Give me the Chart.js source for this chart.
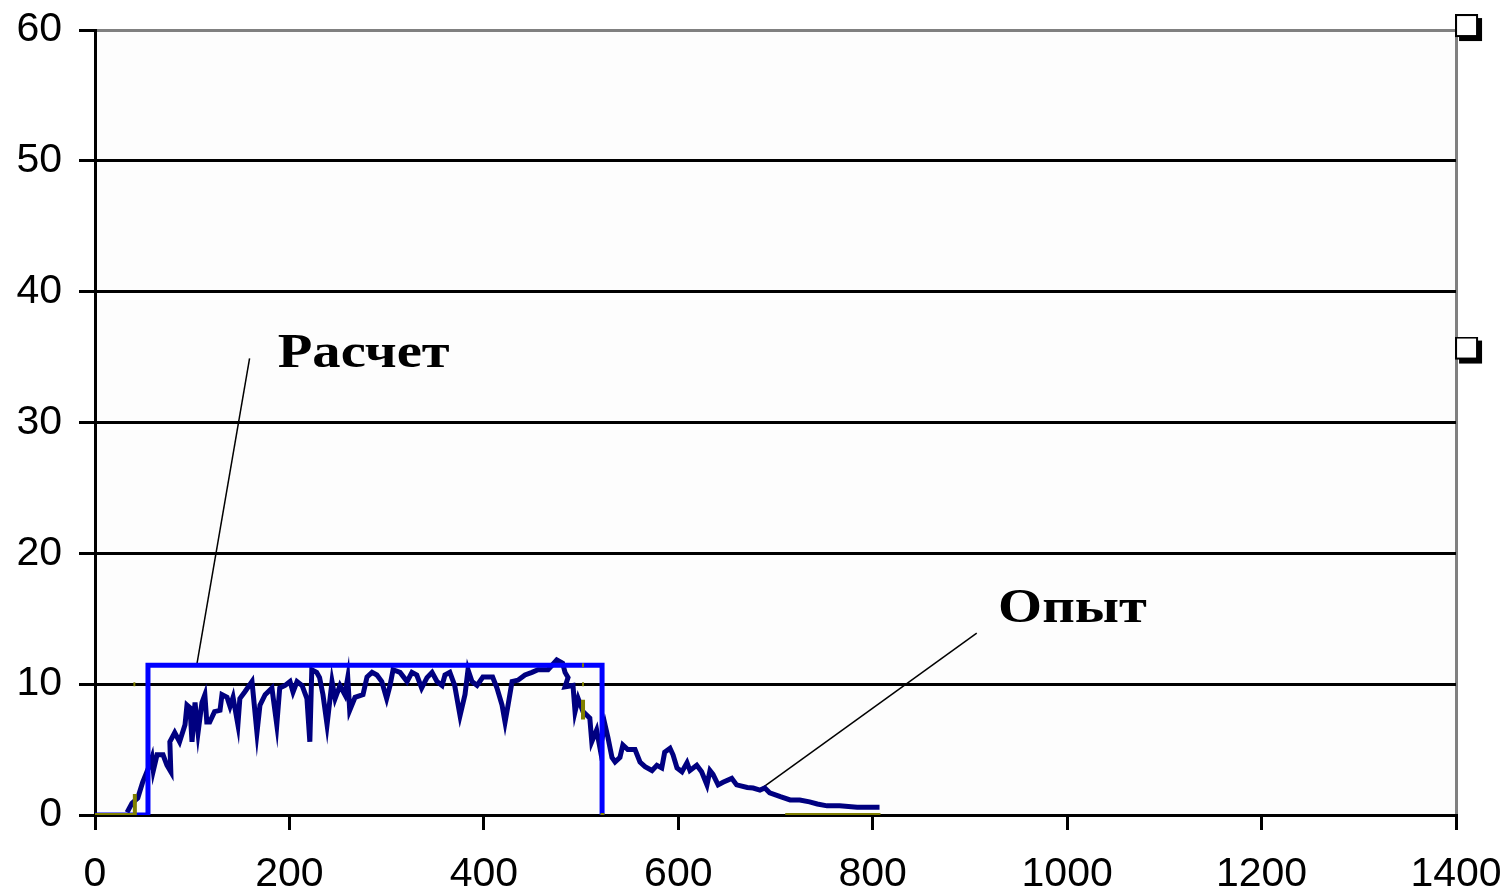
<!DOCTYPE html>
<html>
<head>
<meta charset="utf-8">
<script src="https://cdn.jsdelivr.net/npm/chart.js@4.4.1/dist/chart.umd.min.js"></script>
<style>
  html, body { margin: 0; padding: 0; background: #ffffff; }
  #wrap { width: 1506px; height: 894px; }
</style>
</head>
<body>
<div id="wrap"><canvas id="chart_profile" width="1506" height="894"></canvas></div>
<script>
// ---- data ----
var xTicks = [0, 200, 400, 600, 800, 1000, 1200, 1400];
var yTicks = [0, 10, 20, 30, 40, 50, 60];

// calculation ("Расчет"): rectangular pulse
var calcPoints = [[0, 0], [54.5, 0], [54.5, 11.45], [521.6, 11.45], [521.6, 0]];

// experiment ("Опыт")
var expPoints = [
  [33, 0.2], [38, 0.9], [44, 1.3], [49, 2.5], [55, 3.6], [58.6, 4.4], [60, 3.4], [63.8, 4.6],
  [70, 4.6], [74, 3.8], [78, 3.3], [77, 5.6], [82, 6.3], [87, 5.6], [92.6, 6.9], [94.6, 8.4],
  [97.7, 8.2], [99.8, 5.6], [102.9, 8.6], [106, 6.3], [110, 8.6], [113, 9.2], [115, 7.1],
  [118, 7.1], [123, 7.9], [128.6, 8.0], [130.6, 9.2], [135.8, 9.0], [138.9, 8.3], [142, 9.0],
  [147, 6.9], [149, 8.9], [154, 9.4], [161.5, 10.2], [166.6, 6.3], [169.7, 8.4], [175, 9.2],
  [182, 9.7], [187, 6.9], [190, 9.7], [195.5, 9.9], [200.6, 10.2], [203.7, 9.4], [207.8, 10.2],
  [213, 9.9], [218, 8.9], [221, 5.6], [223, 11.1], [228, 10.9], [231, 10.5], [234.5, 9.2],
  [238.7, 6.9], [243.8, 10.2], [247, 8.9], [252, 9.9], [257, 9.2], [260, 10.5], [262, 8.0],
  [267.5, 9.0], [275.7, 9.2], [279.8, 10.55], [285, 10.9], [290, 10.7], [295, 10.2], [300, 8.9],
  [303.5, 9.9], [306.6, 11.1], [313.8, 10.9], [321, 10.2], [326, 10.9], [331, 10.7], [336, 9.7],
  [341.5, 10.5], [346.7, 10.9], [351.8, 10.2], [357, 9.9], [360, 10.7], [365, 10.9], [370, 9.9],
  [375.5, 7.6], [380.6, 9.2], [383.7, 11.1], [387.8, 10.2], [393, 9.9], [399, 10.55], [409, 10.55],
  [413.5, 9.7], [418.7, 8.4], [421.8, 7.1], [424.9, 8.4], [429, 10.2], [435, 10.3], [442.3, 10.7],
  [449.5, 10.9], [455.7, 11.1], [466, 11.1], [475, 11.85], [481, 11.6], [483.5, 10.9], [486.6, 10.5],
  [483.5, 9.8], [491.7, 9.9], [493.8, 7.9], [497, 8.9], [502, 7.9], [509, 7.4], [511, 5.6],
  [516, 6.5], [519.5, 5.1], [524.6, 6.9], [527.7, 5.9], [531.8, 4.4], [535, 4.05], [540, 4.4],
  [543, 5.35], [548, 5.0], [555.5, 5.0], [560.6, 4.05], [565.8, 3.7], [573, 3.4], [578, 3.8],
  [583, 3.6], [586, 4.8], [591.5, 5.1], [594.6, 4.6], [598.7, 3.6], [603.8, 3.3], [609, 4.0],
  [612, 3.4], [619, 3.8], [624, 3.3], [629.5, 2.3], [632.6, 3.4], [635.7, 3.1], [641, 2.3],
  [646, 2.5], [655, 2.8], [660, 2.3], [671, 2.1], [677, 2.06], [684, 1.9], [689, 2.06],
  [694, 1.7], [705, 1.4], [715, 1.15], [725, 1.15], [735, 1.0], [743, 0.84], [753, 0.7],
  [766, 0.7], [784, 0.6], [794, 0.6], [807, 0.6]
];

// third (olive) curve, only the fragments that show
var olivePoints = [
  [0, 0], [41, 0], [41, 1.6], null,
  [39.5, 10], [41.5, 10], null,
  [501, 11.45], [503, 11.45], null,
  [501, 10], [503, 10], null,
  [502, 8.8], [502, 7.3], null,
  [520, 0], [524, 0], null,
  [710, 0], [808, 0]
];

// leader lines and labels
var calcLeader = [[159, 34.9], [105, 11.6]];
var expLeader = [[907, 13.9], [686, 2.06]];
var labelTexts = ['Расчет', 'Опыт'];
var labelX = [188, 929];
var labelY = [35.2, 15.7];

// stray marker squares on the right edge
var markerPoints = [[1413.4, 60.15], [1413.4, 35.5]];

function toXY(arr) {
  return arr.map(function(p) { return p ? {x: p[0], y: p[1]} : {x: null, y: null}; });
}

// square with a drop shadow for the marker point style
var markerImg = document.createElement('canvas');
markerImg.width = 28;
markerImg.height = 28;
(function() {
  var c = markerImg.getContext('2d');
  c.fillStyle = '#000000';
  c.fillRect(4, 4, 23, 23);
  c.fillStyle = '#ffffff';
  c.fillRect(1, 1, 21, 21);
  c.strokeStyle = '#000000';
  c.lineWidth = 2;
  c.strokeRect(1, 1, 21, 21);
})();

var tickFont = { family: "'Liberation Sans', Arial, sans-serif", size: 41 };

var chart_profile = new Chart(document.getElementById('chart_profile'), {
    type: 'line',
    data: {
        datasets: [
            {
                label: 'olive',
                data: toXY(olivePoints),
                borderColor: '#808000',
                borderWidth: 4,
                pointRadius: 0,
                spanGaps: false,
                order: 0
            },
            {
                label: 'Расчет',
                data: toXY(calcPoints),
                borderColor: '#0000ff',
                borderWidth: 5,
                pointRadius: 0,
                order: 1
            },
            {
                label: 'Опыт',
                data: toXY(expPoints),
                borderColor: '#000080',
                borderWidth: 5,
                pointRadius: 0,
                order: 2
            },
            {
                label: 'leader1',
                data: toXY(calcLeader),
                borderColor: '#000000',
                borderWidth: 1.5,
                pointRadius: 0,
                order: 3
            },
            {
                label: 'leader2',
                data: toXY(expLeader),
                borderColor: '#000000',
                borderWidth: 1.5,
                pointRadius: 0,
                order: 3
            },
            {
                label: 'markers',
                data: toXY(markerPoints),
                showLine: false,
                pointStyle: markerImg,
                pointRadius: 14,
                clip: false,
                order: 4
            }
        ]
    },
    options: {
        animation: false,
        responsive: false,
        maintainAspectRatio: false,
        layout: {
            padding: {left: 0, right: 50, top: 30, bottom: 0}
        },
        plugins: {
            legend: { display: false },
            tooltip: { enabled: false },
            title: { display: false }
        },
        scales: {
            x: {
                type: 'linear',
                min: 0,
                max: 1400,
                afterFit: function(axis) {
                    axis.height = 79;
                    axis.paddingLeft = 0;
                    axis.paddingRight = 0;
                },
                afterBuildTicks: function(axis) {
                    axis.ticks = xTicks.map(function(v) { return {value: v}; });
                },
                ticks: {
                    color: '#000000',
                    padding: 20,
                    maxRotation: 0,
                    font: tickFont,
                    callback: function(value) { return String(value); }
                },
                grid: {
                    color: function(ctx) {
                        return (ctx.tick && ctx.tick.value === 1400) ? '#808080' : 'rgba(0,0,0,0)';
                    },
                    lineWidth: 3,
                    tickColor: '#000000',
                    tickLength: 15,
                    drawTicks: true
                },
                border: { display: true, color: '#000000', width: 3 }
            },
            y: {
                type: 'linear',
                min: 0,
                max: 60,
                afterFit: function(axis) {
                    axis.width = 95;
                    axis.paddingTop = 0;
                    axis.paddingBottom = 0;
                },
                afterBuildTicks: function(axis) {
                    axis.ticks = yTicks.map(function(v) { return {value: v}; });
                },
                ticks: {
                    color: '#000000',
                    padding: 17,
                    font: tickFont,
                    callback: function(value) { return String(value); }
                },
                grid: {
                    color: function(ctx) {
                        return (ctx.tick && ctx.tick.value === 60) ? '#808080' : '#000000';
                    },
                    lineWidth: 3,
                    tickColor: '#000000',
                    tickLength: 16
                },
                border: { display: true, color: '#000000', width: 3 }
            }
        }
    },
    plugins: [{
        id: 'background',
        beforeDraw: function(chart) {
            var ctx = chart.ctx;
            ctx.save();
            ctx.fillStyle = '#ffffff';
            ctx.fillRect(0, 0, chart.width, chart.height);
            var a = chart.chartArea;
            ctx.fillStyle = '#fdfdfd';
            ctx.fillRect(a.left, a.top, a.right - a.left, a.bottom - a.top);
            ctx.restore();
        }
    }, {
        id: 'labels',
        afterDatasetsDraw: function(chart) {
            var ctx = chart.ctx;
            var xs = chart.scales.x, ys = chart.scales.y;
            ctx.save();
            ctx.fillStyle = '#000000';
            ctx.font = "bold 48px 'Liberation Serif', 'Times New Roman', serif";
            ctx.textBaseline = 'middle';
            ctx.textAlign = 'left';
            for (var i = 0; i < labelTexts.length; i++) {
                ctx.save();
                ctx.translate(xs.getPixelForValue(labelX[i]), ys.getPixelForValue(labelY[i]));
                ctx.scale(1.18, 1);
                ctx.fillText(labelTexts[i], 0, 0);
                ctx.restore();
            }
            ctx.restore();
        }
    }]
});
</script>
</body>
</html>
